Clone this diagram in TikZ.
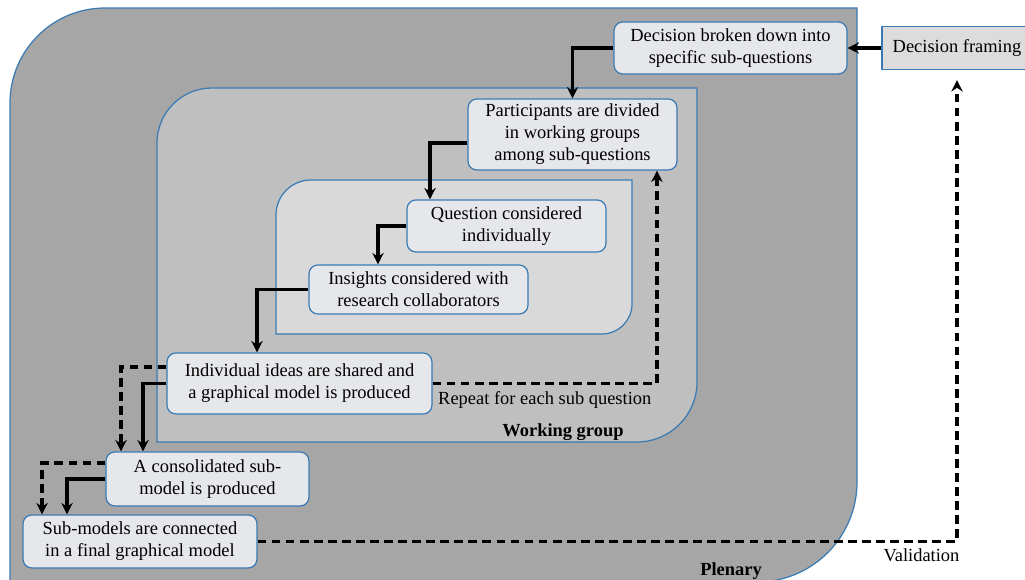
\documentclass[tikz,border=0pt]{standalone}
\usepackage{fontspec}
\setmainfont{Liberation Serif}
\usetikzlibrary{arrows.meta, positioning}
\definecolor{edgeblue}{HTML}{3A7BB4}
\definecolor{plenfill}{HTML}{A6A6A6}
\definecolor{groupfill}{HTML}{BFBFBF}
\definecolor{ownfill}{HTML}{D9D9D9}
\definecolor{stepfill}{HTML}{E6E7EA}
\definecolor{framefill}{HTML}{DCDCDC}

\begin{document}
\begin{tikzpicture}[x=0.02cm, y=0.02cm,
      stage/.style={rectangle, rounded corners=5pt, draw=edgeblue, line width=0.7pt, fill=stepfill, align=center, inner sep=2pt},
      area/.style={draw=edgeblue, line width=0.7pt},
      arrow/.style={-{Stealth[length=6.5pt, width=6.5pt]}, line width=2pt},
      dasharrow/.style={arrow, dash pattern=on 5pt off 3pt},
      every node/.style={font=\fontsize{10.5}{12.5}\selectfont}
    ]
    \useasboundingbox (0,0) rectangle (1025,580);

    % Plenary, working group and individual areas
    \draw[area, fill=plenfill] (10,-2) -- (10,477) arc[start angle=180, end angle=90, radius=1.9cm] -- (857,572) -- (857,98) arc[start angle=0, end angle=-90, radius=2cm] -- cycle;
    \draw[area, fill=groupfill] (157,138) -- (157,437) arc[start angle=180, end angle=90, radius=1.1cm] -- (697,492) -- (697,198) arc[start angle=0, end angle=-90, radius=1.2cm] -- cycle;
    \draw[area, fill=ownfill] (276,246) -- (276,365) arc[start angle=180, end angle=90, radius=0.7cm] -- (632,400) -- (632,276) arc[start angle=0, end angle=-90, radius=0.6cm] -- cycle;

    % Steps
    \node[stage, sharp corners, fill=framefill, minimum width=3cm, minimum height=0.86cm] (frame) at (957,532) {Decision framing};
    \node[stage, minimum width=4.66cm, minimum height=1.04cm] (broken) at (730.5,532) {Decision broken down into\\specific sub-questions};
    \node[stage, minimum width=4.18cm, minimum height=1.42cm] (divided) at (572.5,445.5) {Participants are divided\\in working groups\\among sub-questions};
    \node[stage, minimum width=3.98cm, minimum height=1.04cm] (indiv) at (506.5,354) {Question considered\\individually};
    \node[stage, minimum width=4.38cm, minimum height=0.98cm] (insights) at (418.5,290.5) {Insights considered with\\research collaborators};
    \node[stage, minimum width=5.3cm, minimum height=1.22cm] (shared) at (299.5,196.5) {Individual ideas are shared and\\a graphical model is produced};
    \node[stage, minimum width=4.06cm, minimum height=1.08cm] (consol) at (207.5,101) {A consolidated sub-\\model is produced};
    \node[stage, minimum width=4.68cm, minimum height=1.06cm] (final) at (140,38.5) {Sub-models are connected\\in a final graphical model};

    % Area labels
    \node (grouplbl) at (563,148) {\bfseries Working group};
    \node (plenlbl) at (731,9) {\bfseries Plenary};

    % Solid flow
    \draw[arrow] (frame.west) -- (broken.east);
    \draw[arrow] (broken.west) -| (divided.north);
    \draw[arrow] ([yshift=-0.17cm]divided.west) -| ([xshift=-1.53cm]indiv.north);
    \draw[arrow] (indiv.west) -| ([xshift=-0.81cm]insights.north);
    \draw[arrow] (insights.west) -| ([xshift=-0.85cm]shared.north);
    \draw[arrow] (shared.west) -| ([xshift=-1.29cm]consol.north);
    \draw[arrow] (consol.west) -| ([xshift=-1.46cm]final.north);

    % Dashed flow
    \draw[dasharrow] ([yshift=0.33cm]shared.west) -| ([xshift=-1.73cm]consol.north);
    \draw[dasharrow] ([yshift=0.32cm]consol.west) -| ([xshift=-1.96cm]final.north);
    \draw[dasharrow] (shared.east) -| node[pos=0.25, below] (repeat) {Repeat for each sub question} ([xshift=1.69cm]divided.south);
    \draw[dasharrow] (final.east) -| node[pos=0.5, below left, xshift=0.2cm] (valid) {Validation} ([yshift=-0.2cm]frame.south);

  \end{tikzpicture}
\end{document}
